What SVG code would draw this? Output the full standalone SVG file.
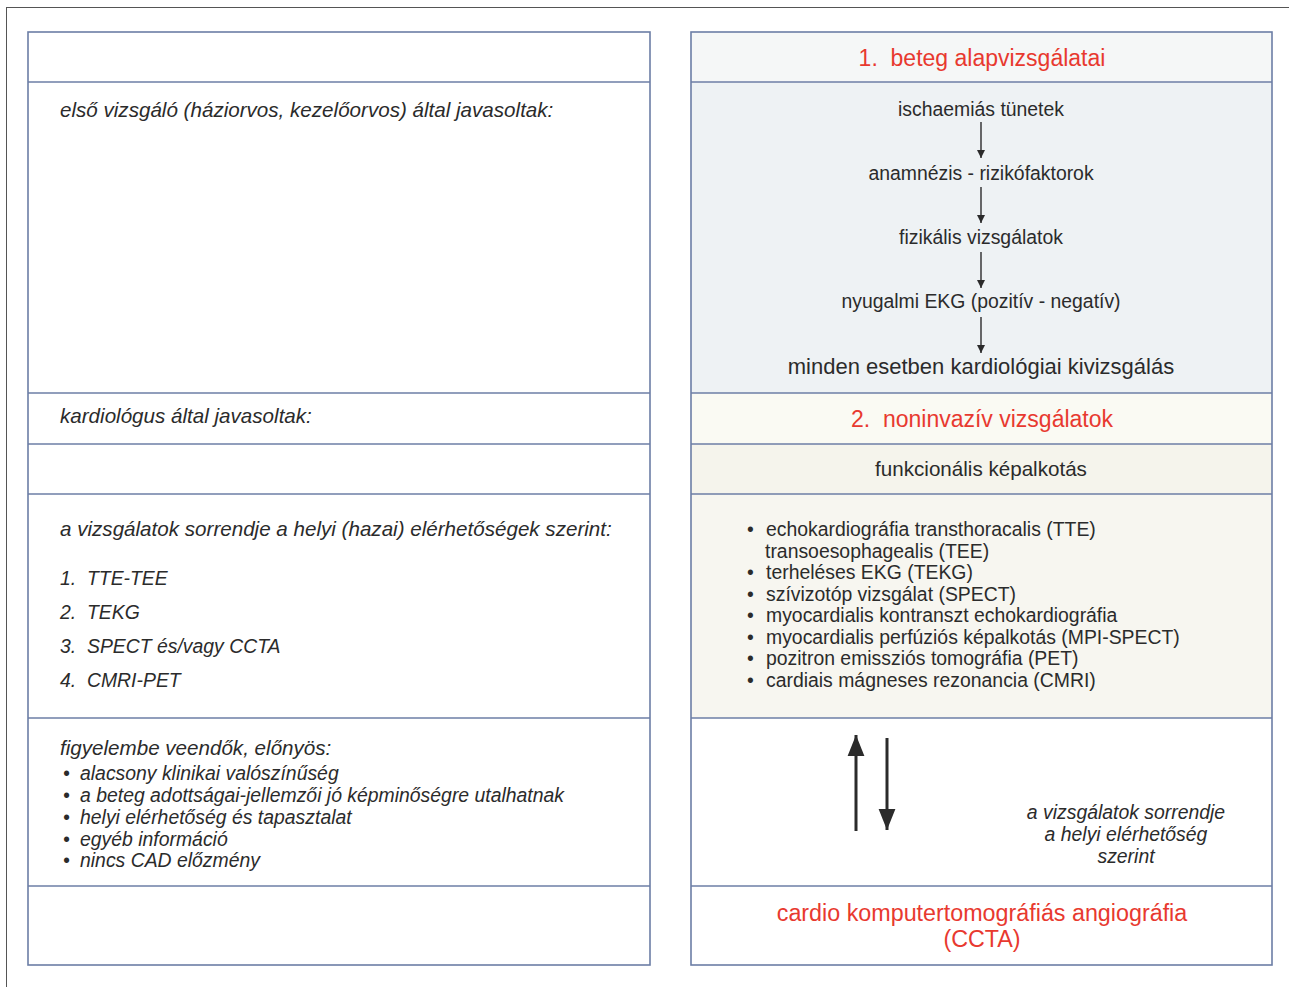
<svg xmlns="http://www.w3.org/2000/svg" width="1289" height="987" viewBox="0 0 1289 987">
<style>
.frame{fill:none;stroke:#555;stroke-width:1}
.panel{stroke:#6c7ea6;stroke-width:1.6}
.div{stroke:#6c7ea6;stroke-width:1.6}
.t{font-family:"Liberation Sans",Arial,sans-serif;fill:#2b2b2b;white-space:pre;font-size:19.4px}
.it{font-style:italic}
.h{font-size:20.6px}
.red{fill:#e8392f;font-size:23px}
.c{text-anchor:middle}
.arr{stroke:#2b2b2b;stroke-width:1.4;fill:none}
.arr2{stroke:#2b2b2b;stroke-width:3;fill:none}
</style>
<defs>
<marker id="ah" viewBox="0 0 10 10" refX="10" refY="5" markerWidth="11" markerHeight="8" markerUnits="userSpaceOnUse" orient="auto"><path d="M0,0 L10,5 L0,10 z" fill="#2b2b2b"/></marker>
<marker id="ah2" viewBox="0 0 10 10" refX="10" refY="5" markerWidth="7" markerHeight="7" orient="auto"><path d="M0,1 L10,5 L0,9 z" fill="#2b2b2b"/></marker>
</defs>
<rect width="1289" height="987" fill="#fff"/>
<rect class="frame" x="6.5" y="7.5" width="1300" height="1000"/>

<g id="left-panel">
<rect class="panel" x="28" y="32" width="622" height="933" fill="#fff"/>
<line class="div" x1="28" y1="82" x2="650" y2="82"/>
<line class="div" x1="28" y1="393" x2="650" y2="393"/>
<line class="div" x1="28" y1="444" x2="650" y2="444"/>
<line class="div" x1="28" y1="494" x2="650" y2="494"/>
<line class="div" x1="28" y1="718" x2="650" y2="718"/>
<line class="div" x1="28" y1="886" x2="650" y2="886"/>
</g>

<g id="node-first-examiner">
<text class="t it h" x="60" y="117">első vizsgáló (háziorvos, kezelőorvos) által javasoltak:</text>
</g>
<g id="node-cardiologist">
<text class="t it h" x="60" y="423">kardiológus által javasoltak:</text>
</g>
<g id="node-order">
<text class="t it h" x="60" y="536">a vizsgálatok sorrendje a helyi (hazai) elérhetőségek szerint:</text>
<text class="t it" x="60" y="585">1.  TTE-TEE</text>
<text class="t it" x="60" y="619">2.  TEKG</text>
<text class="t it" x="60" y="653">3.  SPECT és/vagy CCTA</text>
<text class="t it" x="60" y="687">4.  CMRI-PET</text>
</g>
<g id="node-considerations">
<text class="t it h" x="60" y="755">figyelembe veendők, előnyös:</text>
<text class="t it" x="63" y="780">•</text><text class="t it" x="80" y="780">alacsony klinikai valószínűség</text>
<text class="t it" x="63" y="802">•</text><text class="t it" x="80" y="802">a beteg adottságai-jellemzői jó képminőségre utalhatnak</text>
<text class="t it" x="63" y="824">•</text><text class="t it" x="80" y="824">helyi elérhetőség és tapasztalat</text>
<text class="t it" x="63" y="846">•</text><text class="t it" x="80" y="846">egyéb információ</text>
<text class="t it" x="63" y="867">•</text><text class="t it" x="80" y="867">nincs CAD előzmény</text>
</g>

<g id="right-panel">
<rect x="691" y="32" width="581" height="50" fill="#f5f7f7"/>
<rect x="691" y="82" width="581" height="311" fill="#eef2f4"/>
<rect x="691" y="393" width="581" height="51" fill="#fafaf3"/>
<rect x="691" y="444" width="581" height="50" fill="#f5f4ec"/>
<rect x="691" y="494" width="581" height="224" fill="#f7f6f0"/>
<rect x="691" y="718" width="581" height="247" fill="#fff"/>
<rect class="panel" x="691" y="32" width="581" height="933" fill="none"/>
<line class="div" x1="691" y1="82" x2="1272" y2="82"/>
<line class="div" x1="691" y1="393" x2="1272" y2="393"/>
<line class="div" x1="691" y1="444" x2="1272" y2="444"/>
<line class="div" x1="691" y1="494" x2="1272" y2="494"/>
<line class="div" x1="691" y1="718" x2="1272" y2="718"/>
<line class="div" x1="691" y1="886" x2="1272" y2="886"/>
</g>

<g id="node-basic-title"><text class="t red c" x="982" y="66">1.  beteg alapvizsgálatai</text></g>
<g id="node-symptoms"><text class="t c" x="981" y="116">ischaemiás tünetek</text></g>
<g id="node-anamnesis"><text class="t c" x="981" y="180">anamnézis - rizikófaktorok</text></g>
<g id="node-physical"><text class="t c" x="981" y="244">fizikális vizsgálatok</text></g>
<g id="node-ecg"><text class="t c" x="981" y="308">nyugalmi EKG (pozitív - negatív)</text></g>
<g id="node-cardio"><text class="t c" x="981" y="374" style="font-size:22px">minden esetben kardiológiai kivizsgálás</text></g>
<g id="node-noninvasive"><text class="t red c" x="982" y="427">2.  noninvazív vizsgálatok</text></g>
<g id="node-functional"><text class="t c h" x="981" y="476">funkcionális képalkotás</text></g>
<g id="node-list">
<text class="t" x="747" y="536">•</text><text class="t" x="766" y="536">echokardiográfia transthoracalis (TTE)</text>
<text class="t" x="765" y="558">transoesophagealis (TEE)</text>
<text class="t" x="747" y="579">•</text><text class="t" x="766" y="579">terheléses EKG (TEKG)</text>
<text class="t" x="747" y="601">•</text><text class="t" x="766" y="601">szívizotóp vizsgálat (SPECT)</text>
<text class="t" x="747" y="622">•</text><text class="t" x="766" y="622">myocardialis kontranszt echokardiográfia</text>
<text class="t" x="747" y="644">•</text><text class="t" x="766" y="644">myocardialis perfúziós képalkotás (MPI-SPECT)</text>
<text class="t" x="747" y="665">•</text><text class="t" x="766" y="665">pozitron emissziós tomográfia (PET)</text>
<text class="t" x="747" y="687">•</text><text class="t" x="766" y="687">cardiais mágneses rezonancia (CMRI)</text>
</g>
<g id="node-order-note">
<text class="t it c" x="1126" y="819">a vizsgálatok sorrendje</text>
<text class="t it c" x="1126" y="841">a helyi elérhetőség</text>
<text class="t it c" x="1126" y="863">szerint</text>
</g>
<g id="node-ccta">
<text class="t red c" x="982" y="921" style="font-size:23.3px">cardio komputertomográfiás angiográfia</text>
<text class="t red c" x="982" y="947" style="font-size:23.3px">(CCTA)</text>
</g>

<g id="connectors">
<line class="arr" x1="981" y1="122" x2="981" y2="158" marker-end="url(#ah)"/>
<line class="arr" x1="981" y1="187" x2="981" y2="223" marker-end="url(#ah)"/>
<line class="arr" x1="981" y1="252" x2="981" y2="288" marker-end="url(#ah)"/>
<line class="arr" x1="981" y1="317" x2="981" y2="353" marker-end="url(#ah)"/>
<line class="arr2" x1="856" y1="831" x2="856" y2="735" marker-end="url(#ah2)"/>
<line class="arr2" x1="887" y1="738" x2="887" y2="830" marker-end="url(#ah2)"/>
</g>
</svg>
